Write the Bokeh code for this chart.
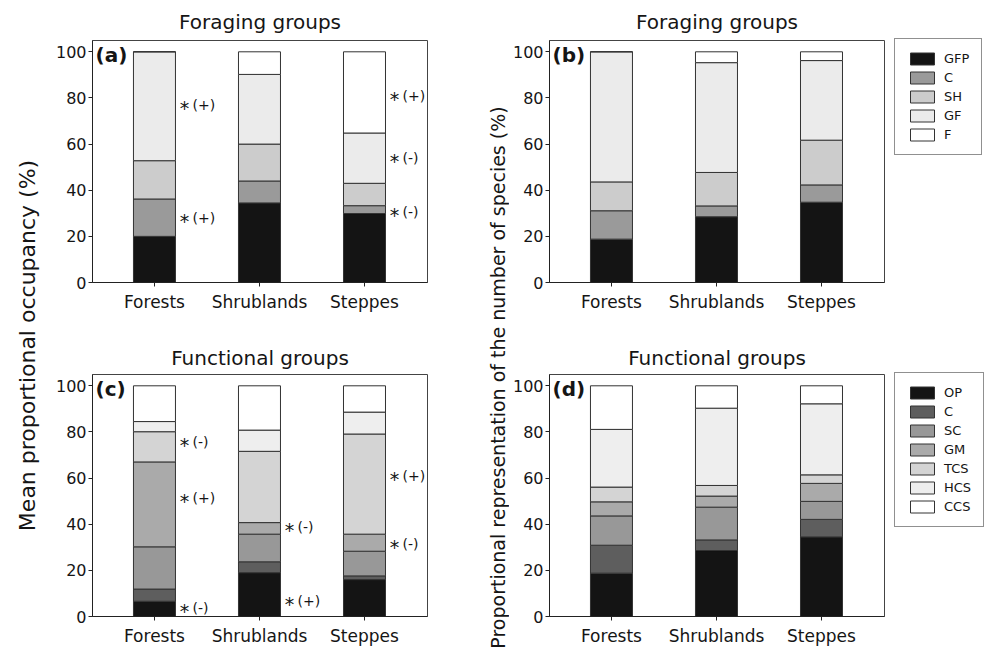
from bokeh.plotting import figure
from bokeh.models import ColumnDataSource, Legend, LegendItem, Label, FixedTicker, Range1d
from bokeh.layouts import row, column
from bokeh.core.properties import value
from bokeh.embed import file_html
from bokeh.resources import INLINE

# ---------------- data ----------------
habitats = ["Forests", "Shrublands", "Steppes"]
hab_pos = [1, 2, 3]

forag_groups = ["GFP", "C", "SH", "GF", "F"]
forag_colors = ["#141414", "#9a9a9a", "#cccccc", "#ebebeb", "#ffffff"]

func_groups = ["OP", "C", "SC", "GM", "TCS", "HCS", "CCS"]
func_colors = ["#141414", "#5e5e5e", "#989898", "#aaaaaa", "#d4d4d4", "#eeeeee", "#ffffff"]

# (a) mean proportional occupancy, foraging groups
a_GFP = [20.0, 34.5, 29.9]
a_C = [16.2, 9.5, 3.4]
a_SH = [16.6, 16.0, 9.7]
a_GF = [47.2, 30.2, 21.8]
a_F = [0.0, 9.8, 35.2]

# (b) proportional representation of species, foraging groups
b_GFP = [18.8, 28.5, 34.8]
b_C = [12.3, 4.7, 7.5]
b_SH = [12.5, 14.5, 19.4]
b_GF = [56.4, 47.6, 34.5]
b_F = [0.0, 4.7, 3.8]

# (c) mean proportional occupancy, functional groups
c_OP = [6.6, 19.0, 16.0]
c_C = [5.3, 4.7, 1.6]
c_SC = [18.3, 12.0, 10.7]
c_GM = [36.8, 5.0, 7.4]
c_TCS = [13.1, 30.9, 43.4]
c_HCS = [4.4, 9.2, 9.5]
c_CCS = [15.5, 19.2, 11.4]

# (d) proportional representation of species, functional groups
d_OP = [18.8, 28.6, 34.5]
d_C = [12.1, 4.6, 7.6]
d_SC = [12.7, 14.2, 7.8]
d_GM = [6.1, 4.8, 7.8]
d_TCS = [6.4, 4.6, 3.7]
d_HCS = [25.0, 33.5, 30.8]
d_CCS = [18.9, 9.7, 7.8]

# significance annotations: habitat index, y position, sign
a_ann_hab = [0, 0, 2, 2, 2]
a_ann_y = [76.9, 27.8, 81.0, 54.1, 30.7]
a_ann_sign = ["(+)", "(+)", "(+)", "(-)", "(-)"]

c_ann_hab = [0, 0, 0, 1, 1, 2, 2]
c_ann_y = [75.7, 51.2, 3.7, 39.0, 6.6, 60.9, 31.5]
c_ann_sign = ["(-)", "(+)", "(-)", "(-)", "(+)", "(+)", "(-)"]

y_ticks = [0, 20, 40, 60, 80, 100]

titles = ["Foraging groups", "Foraging groups", "Functional groups", "Functional groups"]
letters = ["(a)", "(b)", "(c)", "(d)"]
ylab_left = "Mean proportional occupancy (%)"
ylab_right = "Proportional representation of the number of species (%)"

# ---------------- styling ----------------
FONT = "DejaVu Sans"
BAR_W = 0.4
FRAME_W = 335
FRAME_H = 242
X0, X1 = 0.41, 3.6
Y1 = 104.9
TXT = "#151515"


def make_panel(title, letter, groups, colors, cols, bl, br, bt, bb, tstand,
               legend=False, ann=None):
    p = figure(frame_width=FRAME_W, frame_height=FRAME_H,
               x_range=Range1d(X0, X1), y_range=Range1d(0, Y1),
               output_backend="svg", toolbar_location=None,
               min_border_left=bl, min_border_right=br,
               min_border_top=bt, min_border_bottom=bb)
    p.title.text = title
    p.title.align = "center"
    p.title.text_font = FONT
    p.title.text_font_size = "20px"
    p.title.text_font_style = "normal"
    p.title.text_color = TXT
    p.title.standoff = tstand

    data = {"x": hab_pos}
    for g, c in zip(groups, cols):
        data[g] = c
    src = ColumnDataSource(data)
    rends = p.vbar_stack(groups, x="x", width=BAR_W, color=colors, source=src,
                         line_color="#333333", line_width=1)

    p.xgrid.visible = False
    p.ygrid.visible = False
    p.outline_line_color = "#444444"
    p.outline_line_width = 1

    p.xaxis.ticker = FixedTicker(ticks=hab_pos)
    p.xaxis.major_label_overrides = {pos: h for pos, h in zip(hab_pos, habitats)}
    p.yaxis.ticker = FixedTicker(ticks=y_ticks)
    for ax in (p.xaxis, p.yaxis):
        ax.axis_line_color = "#222222"
        ax.major_tick_line_color = "#222222"
        ax.minor_tick_line_color = None
        ax.major_tick_in = 0
        ax.major_tick_out = 4
        ax.major_label_text_font = FONT
        ax.major_label_text_color = TXT
    p.xaxis.major_label_text_font_size = "17px"
    p.xaxis.major_label_standoff = 5
    p.yaxis.major_label_text_font_size = "16px"
    p.yaxis.major_label_standoff = 2

    # panel letter
    p.add_layout(Label(x=X0, y=Y1, x_offset=3, y_offset=-2, text=letter,
                       text_font=FONT, text_font_size="20px", text_font_style="bold",
                       text_color=TXT, text_baseline="top", text_align="left"))

    if legend:
        items = [LegendItem(label=g, renderers=[r]) for g, r in zip(groups, rends)]
        n = len(groups)
        lh = 24 + n * 15 + (n - 1) * 4
        lg = Legend(items=items, location=(10, FRAME_H - lh), margin=0,
                    padding=12, spacing=4, glyph_width=30, glyph_height=15,
                    label_height=15, label_standoff=7,
                    label_text_font=FONT, label_text_font_size="13px",
                    label_text_color=TXT,
                    border_line_color="#222222", border_line_width=1,
                    background_fill_alpha=1.0)
        p.add_layout(lg, "right")

    if ann is not None:
        hab, ys, signs = ann
        xs = [hab_pos[h] + BAR_W / 2 for h in hab]
        asrc = ColumnDataSource(dict(x=xs, y=ys, s=signs, star=["*"] * len(xs)))
        p.text(x="x", y="y", text="star", source=asrc, text_font=value(FONT),
               text_font_size=value("19px"), text_align="center",
               text_baseline="alphabetic", x_offset=9, y_offset=3, text_color=TXT)
        p.text(x="x", y="y", text="s", source=asrc, text_font=value(FONT),
               text_font_size=value("14px"), text_align="left",
               text_baseline="middle", x_offset=17, y_offset=0, text_color=TXT)
    return p


pa = make_panel(titles[0], letters[0], forag_groups, forag_colors,
                [a_GFP, a_C, a_SH, a_GF, a_F], 52, 13, 40, 40, 14,
                ann=(a_ann_hab, a_ann_y, a_ann_sign))
pb = make_panel(titles[1], letters[1], forag_groups, forag_colors,
                [b_GFP, b_C, b_SH, b_GF, b_F], 37, 102, 40, 40, 14, legend=True)
pc = make_panel(titles[2], letters[2], func_groups, func_colors,
                [c_OP, c_C, c_SC, c_GM, c_TCS, c_HCS, c_CCS], 52, 13, 52, 47, 10,
                ann=(c_ann_hab, c_ann_y, c_ann_sign))
pd = make_panel(titles[3], letters[3], func_groups, func_colors,
                [d_OP, d_C, d_SC, d_GM, d_TCS, d_HCS, d_CCS], 37, 102, 52, 47, 9,
                legend=True)


def label_fig(w, h, text, x, y, size):
    f = figure(width=w, height=h, x_range=Range1d(0, 1), y_range=Range1d(0, 1),
               output_backend="svg", toolbar_location=None, min_border=0,
               x_axis_type=None, y_axis_type=None, outline_line_color=None)
    f.xgrid.visible = False
    f.ygrid.visible = False
    f.add_layout(Label(x=x, y=y, x_units="screen", y_units="screen", text=text,
                       angle=90, angle_units="deg", text_align="center",
                       text_baseline="middle", text_font=FONT,
                       text_font_size=size, text_color=TXT))
    return f


TOTAL_H = 663
left_lab = label_fig(40, TOTAL_H, ylab_left, 27, TOTAL_H - 345, "22px")
mid_lab = label_fig(69, TOTAL_H, ylab_right, 57, TOTAL_H - 377, "19px")

layout = row(left_lab, column(pa, pc), mid_lab, column(pb, pd))

open("out.html", "w").write(file_html(layout, INLINE))
